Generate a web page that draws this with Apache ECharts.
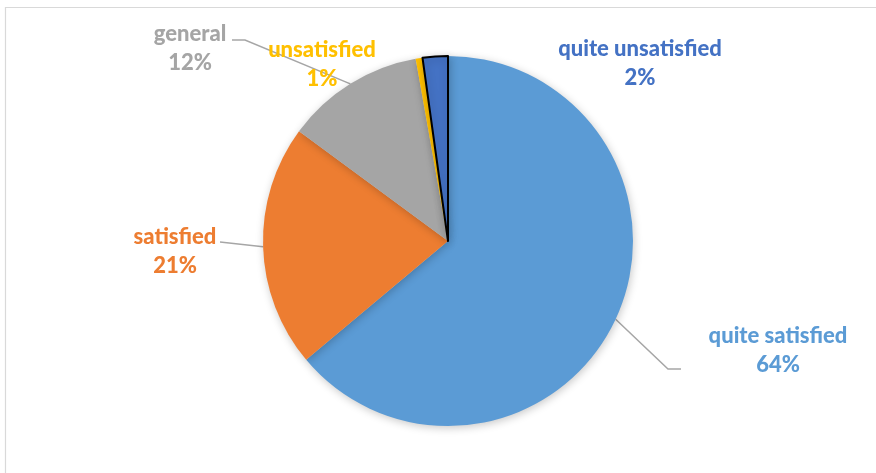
<!DOCTYPE html>
<html>
<head>
<meta charset="utf-8">
<script src="https://cdn.jsdelivr.net/npm/echarts@6/dist/echarts.min.js"></script>
<style>
html,body{margin:0;padding:0;background:#fff;}
#chart{width:876px;height:473px;}
</style>
</head>
<body>
<div id="chart"></div>
<script>
// ---- data ----
var categories = ['quite satisfied', 'satisfied', 'general', 'unsatisfied', 'quite unsatisfied'];
var values = [63.9, 21.2, 12.1, 0.6, 2.2];

// ---- styles (separate from data) ----
var palette = ['#5B9BD5', '#ED7D31', '#A5A5A5', '#FFC000', '#4472C4'];
var showLine = [true, true, true, false, false];
// label block centers and leader line elbows (layout only)
var labelPos = [
  {x: 778, y: 350, line: [[668, 369], [681, 369]]},
  {x: 175, y: 251, line: [[220, 242]]},
  {x: 190, y: 48,  line: [[245, 40], [232, 40]]},
  {x: 322, y: 64,  line: null},
  {x: 640, y: 63,  line: null}
];

var chart = echarts.init(document.getElementById('chart'), null, {renderer: 'canvas'});

var data = categories.map(function (name, i) {
  var item = {
    name: name,
    value: values[i],
    itemStyle: {color: palette[i]},
    label: {color: palette[i]},
    labelLine: {show: showLine[i]}
  };
  if (i === 4) {
    item.itemStyle.borderColor = '#000';
    item.itemStyle.borderWidth = 2;
  }
  return item;
});

chart.setOption({
  animation: false,
  backgroundColor: '#fff',
  graphic: [{
    type: 'rect',
    shape: {x: 5.5, y: 7.5, width: 900, height: 500},
    style: {fill: 'none', stroke: '#D9D9D9', lineWidth: 1.2},
    silent: true
  }],
  series: [{
    type: 'pie',
    center: [448, 241],
    radius: [0, 185],
    startAngle: 90,
    clockwise: true,
    percentPrecision: 0,
    avoidLabelOverlap: false,
    emphasis: {disabled: true},
    itemStyle: {
      borderWidth: 0,
      shadowBlur: 8,
      shadowColor: 'rgba(0,0,0,0.22)',
      shadowOffsetX: 1,
      shadowOffsetY: 2
    },
    label: {
      show: true,
      position: 'outside',
      formatter: function (p) { return p.name + '\n' + Math.round(p.percent) + '%'; },
      fontFamily: 'Lato',
      fontWeight: 900,
      fontSize: 22,
      lineHeight: 29,
      align: 'center'
    },
    labelLine: {
      show: true,
      length: 20,
      length2: 10,
      lineStyle: {color: '#A6A6A6', width: 1.5}
    },
    labelLayout: function (params) {
      var p = labelPos[params.dataIndex];
      var res = {x: p.x, y: p.y, align: 'center', verticalAlign: 'middle'};
      if (p.line && params.labelLinePoints) {
        res.labelLinePoints = [params.labelLinePoints[0]].concat(p.line);
      }
      return res;
    },
    data: data
  }]
});
</script>
</body>
</html>
